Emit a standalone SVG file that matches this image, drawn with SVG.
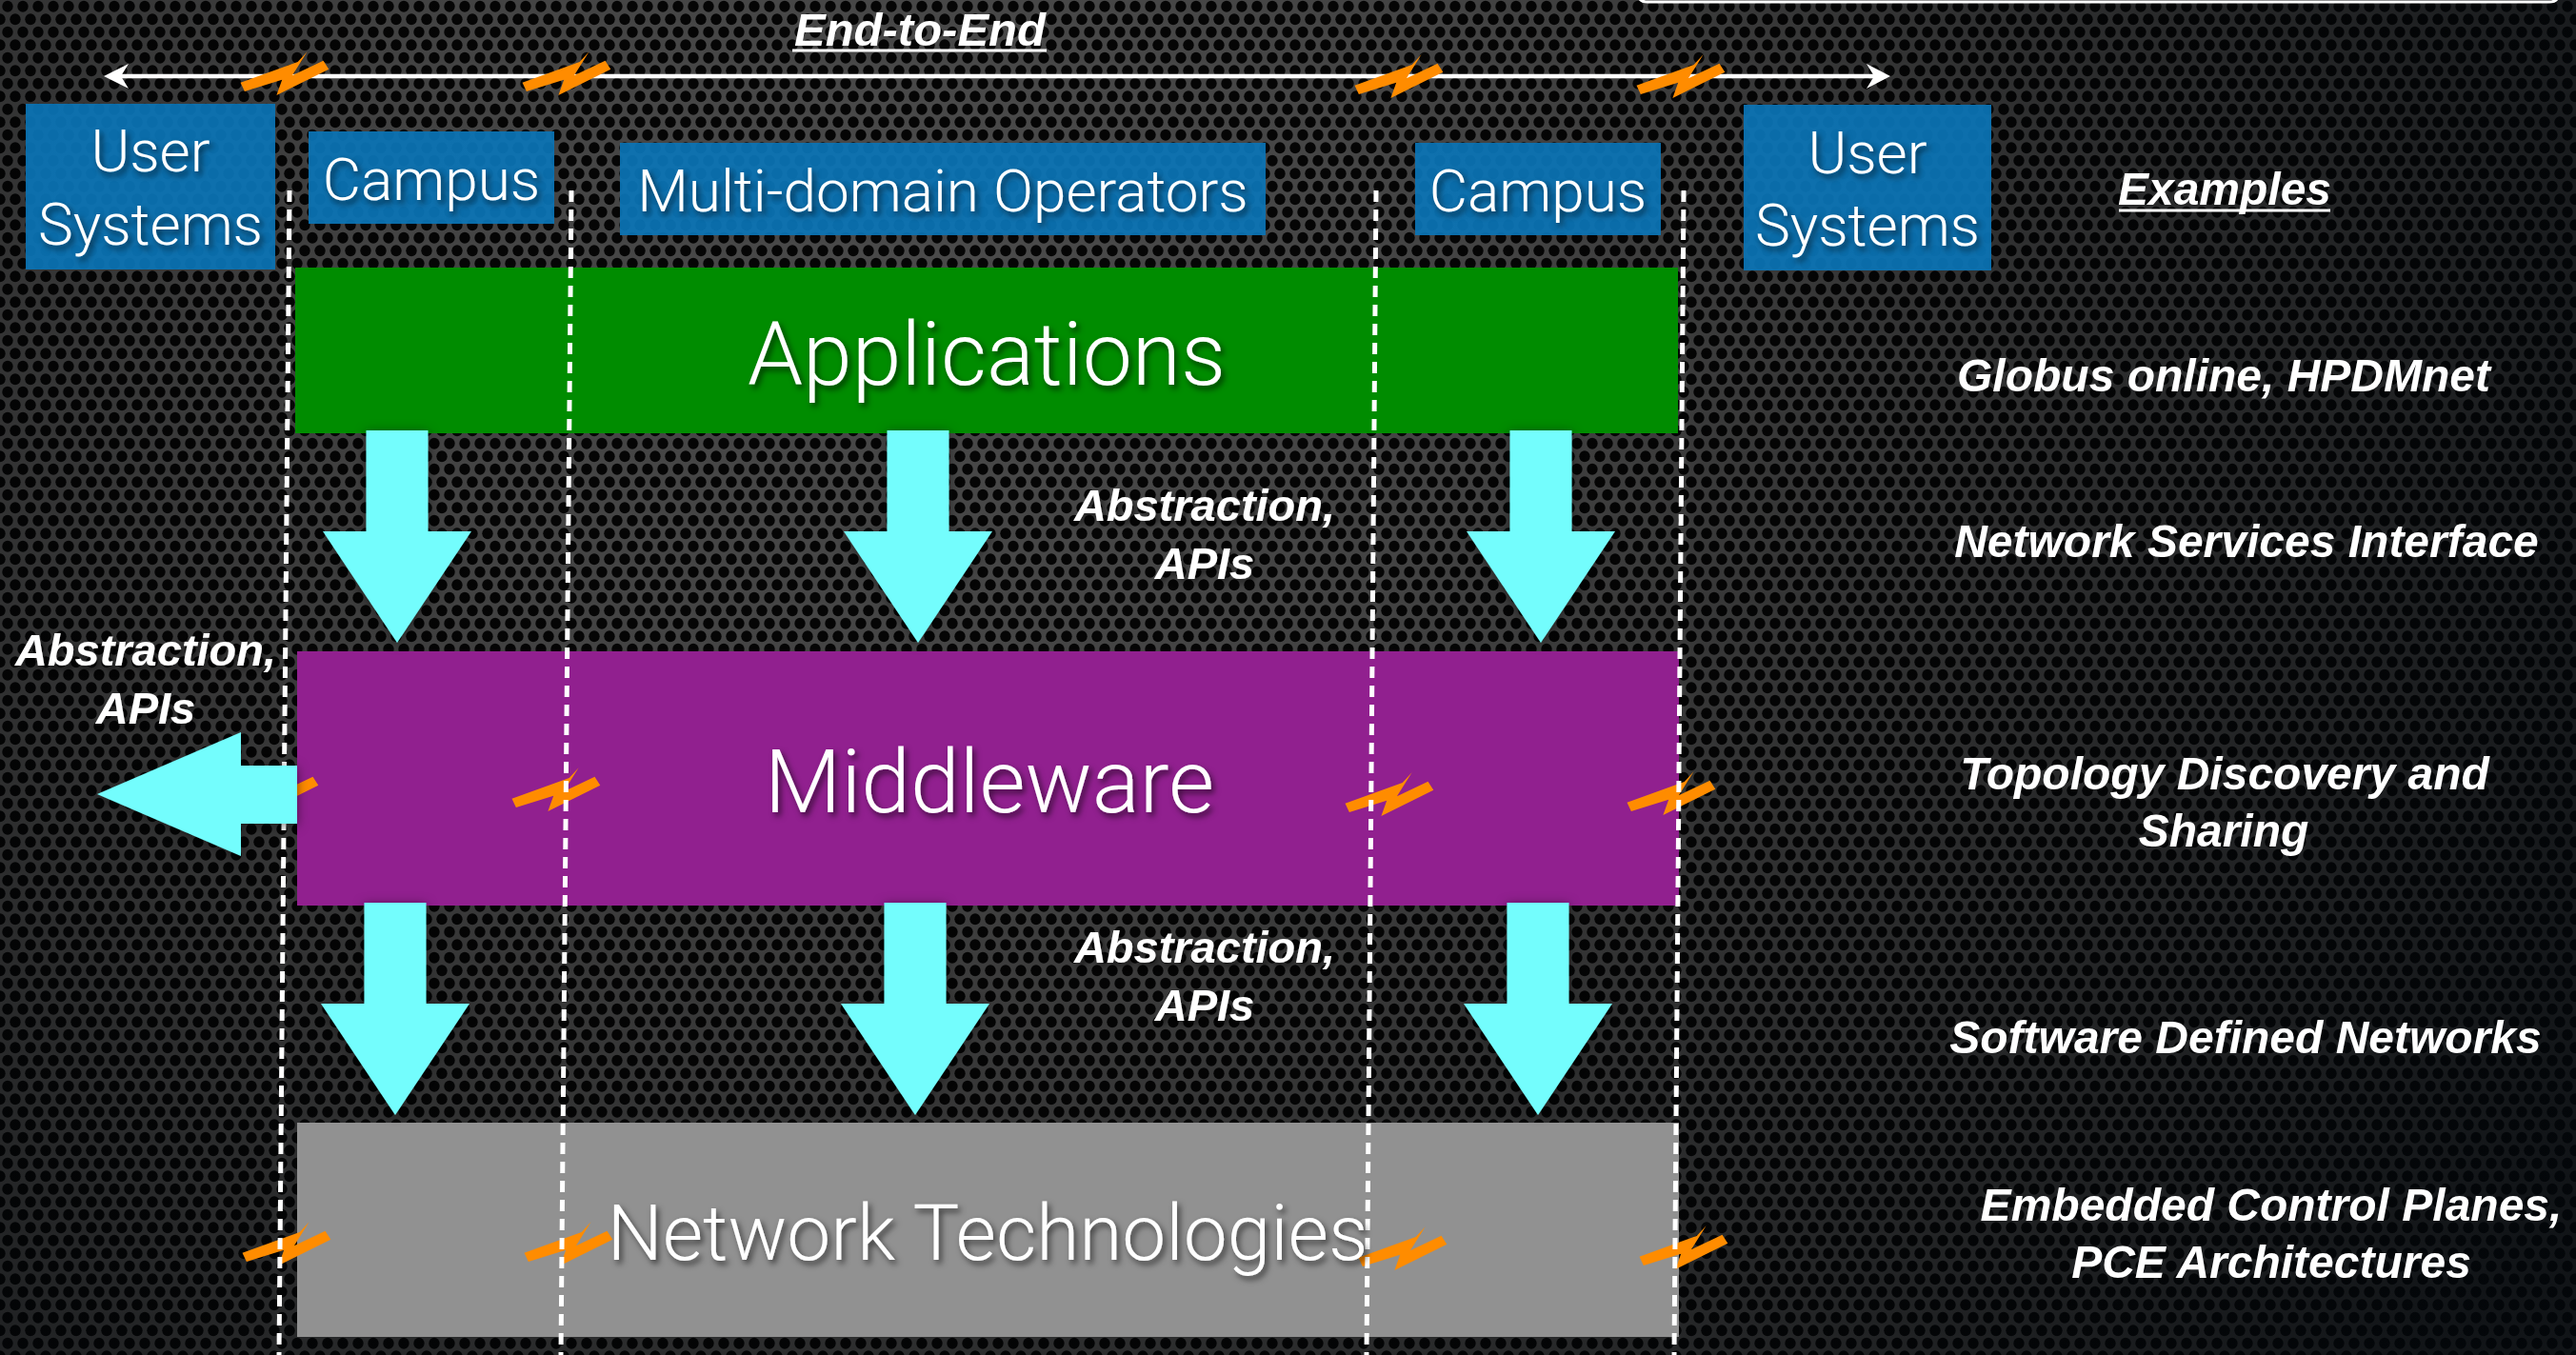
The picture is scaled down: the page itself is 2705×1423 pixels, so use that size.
<svg xmlns="http://www.w3.org/2000/svg" width="2705" height="1423" viewBox="0 0 2705 1423">
  <defs>
    <style>
      .light { font-family: Roboto, "Liberation Sans", Arial, sans-serif; font-weight: 300; fill: #ffffff; text-anchor: middle; }
      .box-label { font-size: 62px; }
      .bar-label { font-size: 93px; }
      .note { font-family: "Liberation Sans", Arial, sans-serif; font-weight: bold; font-style: italic; fill: #ffffff; text-anchor: middle; font-size: 48px; }
      .api { font-size: 47px; }
      .box { fill: #0b74b6; fill-opacity: 0.93; }
      .boundary { stroke: #ffffff; stroke-width: 5; stroke-dasharray: 12 8; fill: none; }
      .flow { fill: #73fdfd; }
      .break { fill: #ff8c00; }
      .rule { stroke: #ffffff; stroke-width: 3; }
    </style>

    <!-- perforated metal backdrop -->
    <pattern id="perf" width="16" height="27" patternUnits="userSpaceOnUse">
      <rect width="16" height="27" fill="#4a4a4a"/>
      <ellipse cx="8" cy="6.75" rx="5.7" ry="5.9" fill="#050505"/>
      <ellipse cx="0" cy="20.25" rx="5.7" ry="5.9" fill="#050505"/>
      <ellipse cx="16" cy="20.25" rx="5.7" ry="5.9" fill="#050505"/>
    </pattern>
    <radialGradient id="vignette" cx="1000" cy="250" r="1950" gradientUnits="userSpaceOnUse">
      <stop offset="0" stop-color="#000" stop-opacity="0"/>
      <stop offset="0.3" stop-color="#000" stop-opacity="0.1"/>
      <stop offset="1" stop-color="#03070b" stop-opacity="0.8"/>
    </radialGradient>

    <filter id="txtShadow" x="-10%" y="-40%" width="125%" height="190%">
      <feDropShadow dx="3" dy="4" stdDeviation="3" flood-color="#000" flood-opacity="0.6"/>
    </filter>
    <filter id="arrowShadow" x="-40%" y="-20%" width="180%" height="140%">
      <feDropShadow dx="0" dy="2" stdDeviation="6" flood-color="#000" flood-opacity="0.5"/>
    </filter>

    <!-- link break marker -->
    <path id="bolt" class="break" d="M-45.5,9.7 L14.7,-12 L24.6,-22.7 L8.9,2.3 L41.5,-13.3 L47.3,-4.3 L-7.6,23 L-1.8,6.7 L-41.1,19 Z"/>
    <!-- downward block arrow, origin at top centre of the shaft -->
    <path id="down" class="flow" d="M-32.5,0 H32.5 V106 H78 L0,223 L-78,106 H-32.5 Z"/>
  </defs>

  <!-- backdrop -->
  <rect width="2705" height="1423" fill="url(#perf)"/>
  <rect width="2705" height="1423" fill="url(#vignette)"/>
  <path d="M1720,-8 Q1720,2 1730,2 L2677,2 Q2687,2 2687,-8" fill="none" stroke="#ffffff" stroke-width="3"/>

  <!-- domain boxes -->
  <g id="user-systems-left"><rect class="box" x="27" y="109" width="262" height="174"/></g>
  <g id="campus-left"><rect class="box" x="324" y="138" width="258" height="97"/></g>
  <g id="multi-domain"><rect class="box" x="651" y="150" width="678" height="97"/></g>
  <g id="campus-right"><rect class="box" x="1486" y="150" width="258" height="97"/></g>
  <g id="user-systems-right"><rect class="box" x="1831" y="110" width="260" height="174"/></g>

  <!-- layers -->
  <g id="applications"><rect x="310" y="281" width="1452" height="174" fill="#008c00"/></g>
  <g id="middleware"><rect x="312" y="684" width="1451" height="267" fill="#91208f"/></g>
  <g id="network-technologies"><rect x="312" y="1179" width="1451" height="225" fill="#919191"/></g>

  <g id="connectors">
    <!-- end-to-end span -->
    <g id="end-to-end">
      <line x1="125" y1="80" x2="1970" y2="80" stroke="#ffffff" stroke-width="4.5"/>
      <path d="M109,80 L135,67 L127,80 L135,93 Z" fill="#ffffff"/>
      <path d="M1985,80 L1960,67 L1968,80 L1960,93 Z" fill="#ffffff"/>
    </g>

    <!-- break markers -->
    <g id="breaks">
      <use href="#bolt" x="298" y="77"/>
      <use href="#bolt" x="594" y="77"/>
      <use href="#bolt" x="1468" y="80"/>
      <use href="#bolt" x="1764" y="80"/>
      <use href="#bolt" x="287" y="829"/>
      <use href="#bolt" x="583" y="829"/>
      <use href="#bolt" x="1458" y="834"/>
      <use href="#bolt" x="1754" y="833"/>
      <use href="#bolt" x="300" y="1306"/>
      <use href="#bolt" x="596" y="1306"/>
      <use href="#bolt" x="1472" y="1311"/>
      <use href="#bolt" x="1767" y="1310"/>
    </g>

    <!-- domain boundaries -->
    <g id="boundaries">
      <line class="boundary" x1="304" y1="200" x2="293" y2="1423"/>
      <line class="boundary" x1="600" y1="200" x2="589" y2="1423"/>
      <line class="boundary" x1="1445" y1="200" x2="1435" y2="1423"/>
      <line class="boundary" x1="1768" y1="200" x2="1758" y2="1423"/>
    </g>

    <!-- abstraction flows -->
    <g id="flows" filter="url(#arrowShadow)">
      <use href="#down" x="417" y="452"/>
      <use href="#down" x="964" y="452"/>
      <use href="#down" x="1618" y="452"/>
      <use href="#down" x="415" y="948"/>
      <use href="#down" x="961" y="948"/>
      <use href="#down" x="1615" y="948"/>
      <path class="flow" d="M102,834 L253,769 L253,804 L312,804 L312,865 L253,865 L253,899 Z"/>
    </g>
  </g>

  <!-- labels -->
  <g id="labels" filter="url(#txtShadow)">
    <text class="light box-label" x="158" y="180">User</text>
    <text class="light box-label" x="158" y="257">Systems</text>
    <text class="light box-label" x="453" y="210">Campus</text>
    <text class="light box-label" x="990" y="222">Multi-domain Operators</text>
    <text class="light box-label" x="1615" y="222">Campus</text>
    <text class="light box-label" x="1961" y="182">User</text>
    <text class="light box-label" x="1961" y="258">Systems</text>

    <text class="light bar-label" x="1036" y="404">Applications</text>
    <text class="light bar-label" x="1039" y="853">Middleware</text>
    <text class="light bar-label" x="1037" y="1323" style="font-size:82px">Network Technologies</text>

    <text class="note api" x="1265" y="547">Abstraction,</text>
    <text class="note api" x="1265" y="608">APIs</text>
    <text class="note api" x="1265" y="1011">Abstraction,</text>
    <text class="note api" x="1265" y="1072">APIs</text>
    <text class="note api" x="153" y="699">Abstraction,</text>
    <text class="note api" x="153" y="760">APIs</text>
  </g>

  <g id="annotations">
    <text class="note" x="966" y="48" style="font-size:49px">End-to-End</text>
    <line class="rule" x1="832" y1="53" x2="1099" y2="53"/>
    <text class="note" x="2336" y="215">Examples</text>
    <line class="rule" x1="2225" y1="221" x2="2447" y2="221"/>
    <text class="note" x="2335" y="411">Globus online, HPDMnet</text>
    <text class="note" x="2359" y="585">Network Services Interface</text>
    <text class="note" x="2336" y="829">Topology Discovery and</text>
    <text class="note" x="2335" y="889">Sharing</text>
    <text class="note" x="2358" y="1106">Software Defined Networks</text>
    <text class="note" x="2385" y="1282">Embedded Control Planes,</text>
    <text class="note" x="2385" y="1342">PCE Architectures</text>
  </g>
</svg>
